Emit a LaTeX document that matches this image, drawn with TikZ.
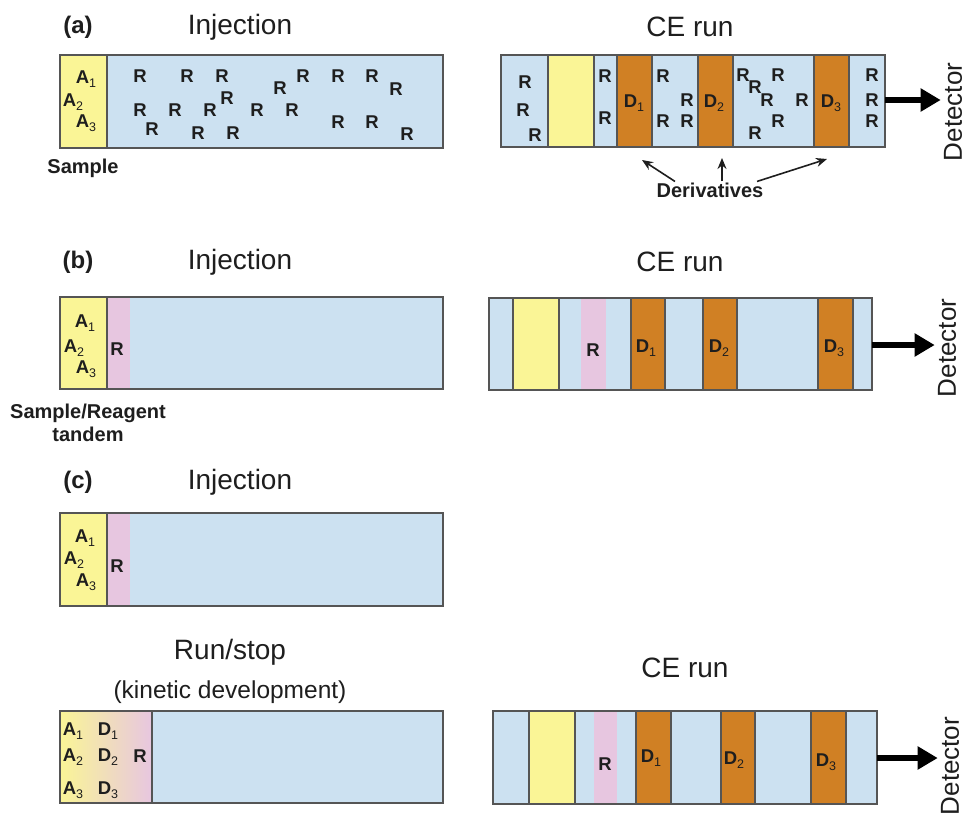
\documentclass[tikz,border=0pt]{standalone}
\usepackage{fontspec}
\setmainfont{Liberation Sans}
\usetikzlibrary{arrows.meta}

\definecolor{capblue}{RGB}{204,225,241}
\definecolor{sampyellow}{RGB}{250,245,150}
\definecolor{derivorange}{RGB}{208,128,36}
\definecolor{reagpink}{RGB}{231,198,224}
\definecolor{edgegray}{RGB}{85,85,85}
\definecolor{inkblack}{RGB}{30,30,30}

% lowered index digit for species labels (kept out of the node's depth)
\newcommand\lowidx[1]{\raisebox{-0.22em}[0pt][0pt]{\fontsize{12.5}{12.5}\selectfont\mdseries #1}}

\tikzset{
  zone/.style={draw=edgegray, line width=1.3pt},
  spec/.style={font=\bfseries\fontsize{18.5}{18.5}\selectfont, text=inkblack, inner sep=0pt},
  heading/.style={font=\fontsize{28}{28}\selectfont, text=inkblack, inner sep=0pt},
  paneltag/.style={font=\bfseries\fontsize{24}{24}\selectfont, text=inkblack, inner sep=0pt},
  note/.style={font=\bfseries\fontsize{20}{23}\selectfont, text=inkblack, inner sep=1pt, align=center},
  detlabel/.style={font=\fontsize{26}{26}\selectfont, text=inkblack, rotate=90, inner sep=1pt},
  toDetector/.style={draw=black, line width=6.5pt, -{Triangle[length=20pt,width=22pt]}, shorten >=2pt},
  pointer/.style={draw=inkblack, line width=1.6pt, -{Stealth[length=11pt,width=9pt]}}
}

\begin{document}
\begin{tikzpicture}[x=1pt,y=-1pt]
\useasboundingbox (0,0) rectangle (967,814);
\fill[white] (0,0) rectangle (967,814);

% ---------------- (a) ----------------
\node[paneltag] (tagA) at (78,27) {(a)};
\node[heading] (injA) at (240,27) {Injection};
\node[heading] (ceA) at (690,27) {CE run};

% injection capillary
\path[zone, fill=capblue] (60,55) rectangle (443,148);
\path[zone, fill=sampyellow] (60,55) rectangle (107,148);
\node[spec] (a1A) at (86,77) {A\lowidx{1}};
\node[spec] (a2A) at (73,100) {A\lowidx{2}};
\node[spec] (a3A) at (86,121) {A\lowidx{3}};
\foreach [count=\k] \p in {(140,76),(187,76),(222,76),(280,88),(303,76),(338,76),(372,76),(396,89),
  (227,98),(140,110),(175,110),(210,110),(257,110),(292,110),
  (152,129),(198,133),(233,133),(338,122),(372,122),(407,134)}
  \node[spec] (rA\k) at \p {R};
\node[note] (sampleA) at (83,168) {Sample};

% separation capillary
\foreach \xa/\xb/\c in {501/548/capblue, 548/594/sampyellow, 594/617/capblue, 617/652/derivorange,
  652/698/capblue, 698/733/derivorange, 733/814/capblue, 814/849/derivorange, 849/885/capblue}
  \path[zone, fill=\c] (\xa,55) rectangle (\xb,147);
\foreach [count=\k] \p in {(525,82),(523,110),(535,135),(605,76),(605,118),
  (663,76),(687,100),(663,121),(687,121),
  (743,75),(755,87),(767,100),(778,75),(802,100),(778,121),(755,133),
  (872,75),(872,100),(872,121)}
  \node[spec] (rC\k) at \p {R};
\node[spec] (d1A) at (634,101) {D\lowidx{1}};
\node[spec] (d2A) at (714,101) {D\lowidx{2}};
\node[spec] (d3A) at (831,101) {D\lowidx{3}};

\node[note] (deriv) at (710,190) {Derivatives};
\coordinate (pd1) at (642,160);
\coordinate (pd2) at (722,158);
\coordinate (pd3) at (827,159);
\draw[pointer] ([xshift=-35pt]deriv.north) -- (pd1);
\draw[pointer] ([xshift=12pt]deriv.north) -- (pd2);
\draw[pointer] ([xshift=47pt]deriv.north) -- (pd3);

\coordinate (endA) at (885,100);
\node[detlabel] (detA) at (953,112) {Detector};
\draw[toDetector] (endA) -- (endA -| detA.north);

% ---------------- (b) ----------------
\node[paneltag] (tagB) at (78,262) {(b)};
\node[heading] (injB) at (240,262) {Injection};
\node[heading] (ceB) at (680,262) {CE run};

\path[zone, fill=capblue] (60,297) rectangle (443,389);
\fill[reagpink] (107,297.7) rectangle (130,388.3);
\path[zone, fill=sampyellow] (60,297) rectangle (107,389);
\node[spec] (a1B) at (85,321) {A\lowidx{1}};
\node[spec] (a2B) at (74,346) {A\lowidx{2}};
\node[spec] (a3B) at (86,367) {A\lowidx{3}};
\node[spec] (rB) at (117,349) {R};
\node[note] (tandem) at (88,423) {Sample/Reagent\\tandem};

\foreach \xa/\xb/\c in {489/513/capblue, 513/559/sampyellow, 559/631/capblue, 631/665/derivorange,
  665/703/capblue, 703/737/derivorange, 737/818/capblue, 818/853/derivorange, 853/872/capblue}
  \path[zone, fill=\c] (\xa,298) rectangle (\xb,390);
\fill[reagpink] (581,298.7) rectangle (606,389.3);
\node[spec] (rBce) at (593,350) {R};
\node[spec] (d1B) at (646,346) {D\lowidx{1}};
\node[spec] (d2B) at (719,346) {D\lowidx{2}};
\node[spec] (d3B) at (834,346) {D\lowidx{3}};

\coordinate (endB) at (872,345);
\node[detlabel] (detB) at (947,348) {Detector};
\draw[toDetector] (endB) -- (endB -| detB.north);

% ---------------- (c) ----------------
\node[paneltag] (tagC) at (78,482) {(c)};
\node[heading] (injC) at (240,482) {Injection};

\path[zone, fill=capblue] (60,513) rectangle (443,606);
\fill[reagpink] (107,513.7) rectangle (130,605.3);
\path[zone, fill=sampyellow] (60,513) rectangle (107,606);
\node[spec] (a1C) at (85,536) {A\lowidx{1}};
\node[spec] (a2C) at (74,558) {A\lowidx{2}};
\node[spec] (a3C) at (86,580) {A\lowidx{3}};
\node[spec] (rC) at (117,566) {R};

% run/stop step
\node[heading] (runstop) at (230,652) {Run/stop};
\node[heading, font=\fontsize{24.5}{24.5}\selectfont] (kinetic) at (230,692) {(kinetic development)};
\path[zone, fill=capblue] (60,711) rectangle (443,803);
\path[zone, left color=sampyellow, right color=reagpink, draw=edgegray] (60,711) rectangle (152,803);
\node[spec] (a1K) at (73,729) {A\lowidx{1}};
\node[spec] (d1K) at (108,729) {D\lowidx{1}};
\node[spec] (a2K) at (73,755) {A\lowidx{2}};
\node[spec] (d2K) at (108,755) {D\lowidx{2}};
\node[spec] (rK) at (140,756) {R};
\node[spec] (a3K) at (73,788) {A\lowidx{3}};
\node[spec] (d3K) at (108,788) {D\lowidx{3}};

% final separation
\node[heading] (ceC) at (685,668) {CE run};
\foreach \xa/\xb/\c in {493/529/capblue, 529/575/sampyellow, 575/636/capblue, 636/671/derivorange,
  671/721/capblue, 721/755/derivorange, 755/811/capblue, 811/846/derivorange, 846/877/capblue}
  \path[zone, fill=\c] (\xa,711) rectangle (\xb,804);
\fill[reagpink] (594,711.7) rectangle (617,803.3);
\node[spec] (rCce) at (605,764) {R};
\node[spec] (d1C) at (651,756) {D\lowidx{1}};
\node[spec] (d2C) at (734,758) {D\lowidx{2}};
\node[spec] (d3C) at (826,760) {D\lowidx{3}};

\coordinate (endC) at (877,758);
\node[detlabel] (detC) at (950,766) {Detector};
\draw[toDetector] (endC) -- (endC -| detC.north);
\end{tikzpicture}
\end{document}
